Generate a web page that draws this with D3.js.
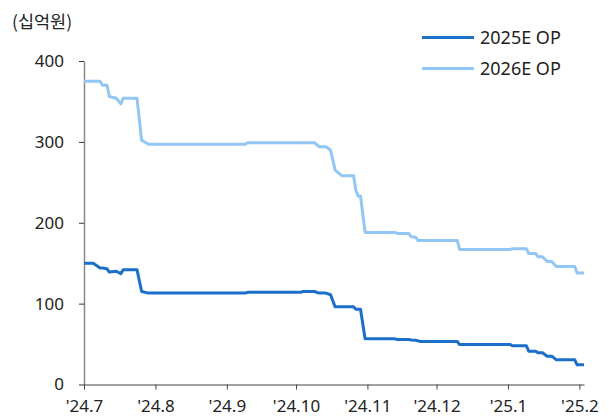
<!DOCTYPE html>
<html>
<head>
<meta charset="utf-8">
<script src="https://cdn.jsdelivr.net/npm/d3@7"></script>
<style>
  html, body { margin: 0; padding: 0; background: #fff; }
  svg { display: block; font-family: "Noto Sans", "Noto Sans CJK KR", sans-serif; }
</style>
</head>
<body>
<svg id="chart" width="609" height="417"></svg>
<script>
// ---- data ----
const dates = [
  "2024-07-01","2024-07-05","2024-07-08","2024-07-09","2024-07-11","2024-07-12","2024-07-15",
  "2024-07-17","2024-07-18","2024-07-24","2024-07-26","2024-07-29","2024-09-09","2024-09-10",
  "2024-10-03","2024-10-04","2024-10-09","2024-10-11","2024-10-14","2024-10-16","2024-10-18",
  "2024-10-21","2024-10-26","2024-10-27","2024-10-28","2024-10-29","2024-10-31","2024-11-13",
  "2024-11-14","2024-11-19","2024-11-20","2024-11-22","2024-11-23","2024-11-24","2024-12-10",
  "2024-12-11","2025-01-02","2025-01-03","2025-01-09","2025-01-10","2025-01-13","2025-01-14",
  "2025-01-16","2025-01-18","2025-01-20","2025-01-22","2025-01-30","2025-01-31","2025-02-03"
];
const op2025 = [
  150,150,144,144,143,139,140,
  137,142,142,115,113,113,114,
  114,115,115,113,113,111,96,
  96,96,93,93,93,56.5,56.5,
  55.6,55.6,55,54.8,54,53.2,53.2,
  49.4,49.4,47.8,47.8,41.2,41.2,39.2,
  39.2,35,35,30.5,30.5,24.4,24.4
];
const op2026 = [
  375,375,375,370,370,356,354,
  347,354,354,302,297,297,299,
  299,299,299,294,294,290,265,
  258,258,240,233,233,188,188,
  186.6,186.6,182.6,182,178,178,178,
  167,167,168,168,162,162,158,
  158,152,152,146,146,138,138
];
const seriesNames = ["2025E OP", "2026E OP"];
const seriesColors = ["#1b6fc9", "#92c6f5"];
const yTicks = [0, 100, 200, 300, 400];
const xTickDates = ["2024-07-01","2024-08-01","2024-09-01","2024-10-01","2024-11-01","2024-12-01","2025-01-01","2025-02-01"];
const xTickLabels = ["'24.7","'24.8","'24.9","'24.10","'24.11","'24.12","'25.1","'25.2"];
const unitLabel = "(십억원)";

// ---- chart ----
const parse = d3.timeParse("%Y-%m-%d");
const svg = d3.select("#chart");

const x = d3.scaleTime()
  .domain([parse("2024-07-01"), parse("2025-02-03")])
  .range([84, 584]);
const y = d3.scaleLinear().domain([0, 400]).range([384.5, 61]);

const textColor = "#222";
const fontSize = 17;

// y axis
const yAxis = d3.axisLeft(y).tickValues(yTicks).tickSize(5).tickSizeOuter(0).tickPadding(15);
const gy = svg.append("g").attr("transform", "translate(84,0)").call(yAxis);
gy.select(".domain").attr("stroke", "#888").attr("stroke-width", 1.5);
gy.selectAll(".tick line").attr("stroke", "#333");
gy.selectAll(".tick text").attr("fill", textColor).style("font-size", fontSize + "px")
  .style("font-family", "'Noto Sans', sans-serif");

// x axis
const xTickVals = xTickDates.map(parse);
const xAxis = d3.axisBottom(x).tickValues(xTickVals).tickSize(5).tickSizeOuter(0).tickPadding(10)
  .tickFormat((d, i) => xTickLabels[i]);
const gx = svg.append("g").attr("transform", "translate(0,384.5)").call(xAxis);
gx.select(".domain").attr("stroke", "#444");
gx.selectAll(".tick line").attr("stroke", "#444");
gx.selectAll(".tick text").attr("fill", textColor).style("font-size", fontSize + "px")
  .style("font-family", "'Noto Sans', sans-serif");

// lines
const parsedDates = dates.map(parse);
const allSeries = [op2026, op2025];
const colorsOrdered = [seriesColors[1], seriesColors[0]];
const line = d3.line()
  .x((d, i) => x(parsedDates[i]))
  .y(d => y(d));
allSeries.forEach((vals, k) => {
  svg.append("path")
    .datum(vals)
    .attr("fill", "none")
    .attr("stroke", colorsOrdered[k])
    .attr("stroke-width", 3)
    .attr("stroke-linejoin", "round")
    .attr("d", line);
});

// unit label
svg.append("text")
  .attr("x", 12).attr("y", 28)
  .attr("fill", textColor)
  .style("font-size", "17.5px")
  .style("font-family", "'Noto Sans CJK KR', 'Noto Sans', sans-serif")
  .text(unitLabel);

// legend
const legend = svg.append("g");
seriesNames.forEach((name, i) => {
  const ly = 37.5 + i * 31;
  legend.append("line")
    .attr("x1", 422).attr("x2", 474).attr("y1", ly).attr("y2", ly)
    .attr("stroke", seriesColors[i]).attr("stroke-width", 3);
  legend.append("text")
    .attr("x", 480).attr("y", ly).attr("dy", "0.35em")
    .attr("fill", textColor)
    .style("font-size", "18px")
    .text(name);
});
</script>
</body>
</html>
